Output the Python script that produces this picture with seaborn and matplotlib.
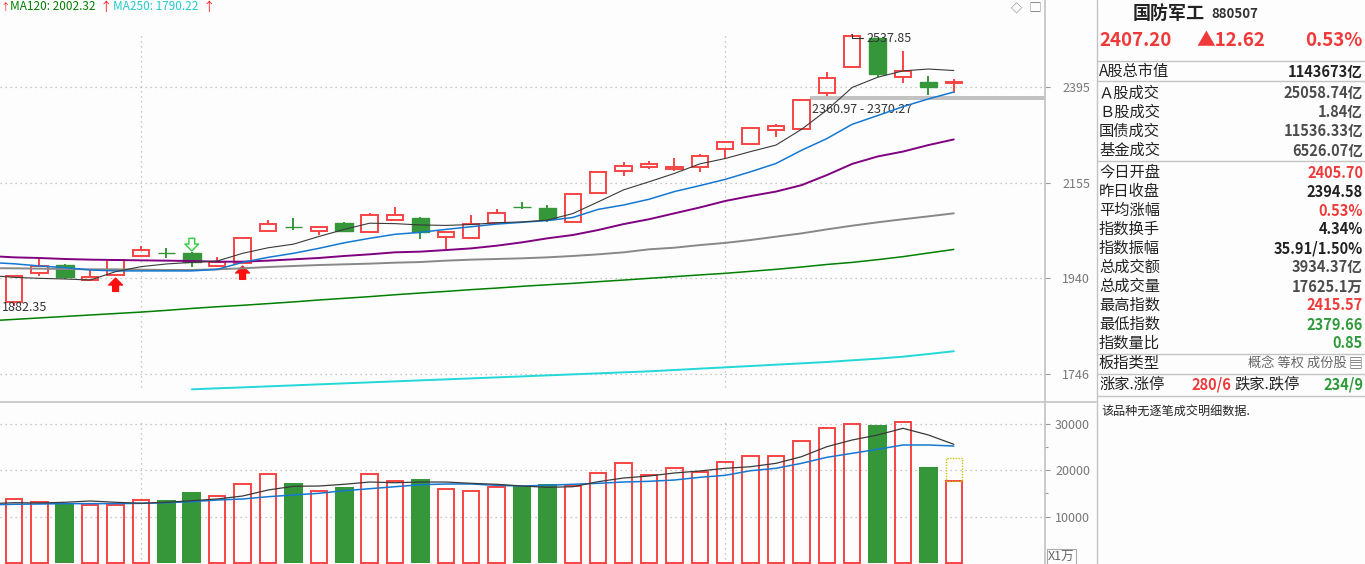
import numpy as np
import matplotlib
matplotlib.use("Agg")
import matplotlib.pyplot as plt
from matplotlib.lines import Line2D
from matplotlib.ticker import NullLocator
import seaborn as sns

# ---- daily candles (index points) ----
opens = [1890, 1951, 1968, 1936, 1947, 1988, 1995, 1995, 1966, 1973, 2044, 2053, 2043, 2062,
         2041, 2069, 2073, 2031, 2028, 2062, 2098, 2095, 2063, 2130, 2184, 2192, 2187, 2192,
         2236, 2248, 2283, 2285, 2378, 2447, 2526, 2421.5, 2407, 2405.70]
highs = [1947, 1984, 1970, 1960, 1980, 2010, 2005.6, 1996, 1986, 2029, 2068, 2072, 2054, 2064,
         2085, 2098, 2074, 2042, 2080, 2093, 2110, 2103, 2129, 2181, 2205, 2206, 2215, 2223,
         2255, 2289, 2298, 2360.97, 2433, 2537.85, 2527, 2491, 2423, 2415.57]
lows = [1882.35, 1945, 1938, 1935, 1946, 1987, 1983.6, 1964, 1965, 1972, 2043, 2046, 2034.5, 2043,
        2040, 2068, 2026, 2001, 2027, 2061, 2093, 2064.5, 2062, 2129, 2171, 2187, 2183, 2181,
        2215, 2247, 2267, 2284, 2370.27, 2446, 2420, 2405.6, 2373, 2379.66]
closes = [1945, 1966, 1943, 1943, 1979, 2001, 1994, 1975, 1975, 2028, 2059, 2052, 2053, 2044,
          2080, 2079, 2042, 2041, 2059, 2085, 2097, 2070, 2128, 2180, 2195, 2200, 2192, 2219,
          2254, 2288, 2294, 2360, 2417, 2532, 2428, 2436, 2394.58, 2407.20]

# volume, x1万
volume = [13740, 13100, 12880, 12450, 12450, 13530, 13590, 15310, 14390, 16970, 19120, 17250, 15460,
          16390, 19120, 17610, 18110, 15890, 15460, 16320, 16670, 17030, 16540, 19330, 21480, 18900,
          20410, 19550, 21700, 22990, 22990, 26220, 29010, 29870, 29720, 30300, 20690, 17625.1]
vol_projected = 22560

# moving averages; the first value belongs to the session just left of the chart
ma5 = [1946, 1941.8, 1939.7, 1938.3, 1936.1, 1954, 1964.8, 1970.6, 1974, 1977, 1993.8, 2006, 2014,
       2031, 2047, 2061, 2060, 2057, 2056, 2058, 2062, 2064, 2068, 2083, 2110, 2138, 2157, 2177,
       2200, 2213, 2230, 2246, 2285, 2334, 2393, 2420, 2437, 2442, 2438]
ma10 = [1974, 1971, 1966.3, 1962.7, 1957.6, 1955.6, 1955.6, 1955.6, 1955.6, 1958.9, 1974, 1985,
        1993.8, 2004.7, 2017, 2027, 2036, 2040.4, 2047, 2053, 2059, 2063, 2067, 2074, 2092.6, 2102.7,
        2116, 2134, 2148, 2162.8, 2181, 2201, 2233, 2262, 2298, 2320, 2343, 2363, 2381]
ma20 = [1988, 1985, 1983.6, 1981.4, 1980, 1979.2, 1978.5, 1977.8, 1977, 1975.6, 1975.6, 1977.8,
        1980.7, 1983.6, 1988, 1991.6, 1996, 1997.5, 2001, 2004.7, 2010.6, 2018, 2027, 2034.4, 2045.6,
        2059, 2070, 2083.5, 2097, 2112, 2123.5, 2134, 2149, 2173, 2200, 2218, 2230, 2246, 2260]
ma60 = [1961.5, 1961.2, 1960.5, 1959.8, 1959.0, 1959.0, 1958.3, 1957.6, 1957.6, 1959.0, 1961.2,
        1964.0, 1966.2, 1968.3, 1969.8, 1971.3, 1973.4, 1974.8, 1977.8, 1980.0, 1981.4, 1982.9,
        1985.0, 1988.0, 1991.6, 1996.0, 2002.6, 2006.2, 2012.0, 2016.8, 2023.2, 2030.7, 2038.0,
        2047.0, 2055.4, 2063.0, 2070.0, 2076.6, 2083.5]
ma120 = [1851, 1854, 1857, 1860, 1863, 1866, 1869, 1872.5, 1876.5, 1880, 1883, 1886.5, 1890, 1894,
         1897.5, 1901, 1905, 1908.6, 1912, 1915.7, 1919, 1922.7, 1926, 1929, 1932.6, 1936, 1939.7,
         1943.3, 1947, 1950.4, 1954.7, 1959, 1964, 1969.5, 1974, 1980, 1986.5, 1994.5, 2002.32]
ma250_start = 7
ma250 = [1716.7, 1718.6, 1720.4, 1722.3, 1724.2, 1726.1, 1728, 1729.9, 1731.8, 1733.7, 1735.6,
         1737.5, 1739.4, 1741.3, 1743.3, 1745.2, 1747.1, 1749.1, 1751, 1753.6, 1756.2, 1758.7,
         1761.3, 1763.9, 1766.5, 1769.1, 1772.4, 1775.6, 1779.5, 1784.7, 1790.22]
vol_ma5 = [12800, 13010, 12950, 13100, 13380, 13100, 12880, 13100, 13440, 13810, 14450, 15740,
           16540, 16600, 16970, 17460, 17310, 17460, 17460, 17180, 16970, 16600, 16320, 16450,
           17530, 18320, 18750, 19400, 19830, 20410, 20750, 21480, 22900, 25050, 26500, 27570,
           29010, 27570, 25570]
vol_ma10 = [12550, 12670, 12730, 12810, 12810, 12810, 12880, 13010, 13230, 13590, 13810, 14300,
            14670, 15030, 15590, 16020, 16450, 16880, 17030, 17030, 16750, 16600, 16750, 16970,
            17180, 17460, 17610, 17890, 18470, 18900, 19890, 20410, 21480, 22770, 23630, 24500,
            25420, 25420, 25200]

price_ticks = [1746, 1940, 2155, 2395]
vol_ticks = [10000, 20000, 30000]
month_starts = [5, 28]
buy_signals = [4, 9]
sell_signals = [7]
gap_low, gap_high = 2360.97, 2370.27

title = '国防军工'
code = '880507'
last_price, last_change, last_pct = '2407.20', '▲12.62', '0.53%'
stat_labels = ['A股总市值', 'Ａ股成交', 'Ｂ股成交', '国债成交', '基金成交', '今日开盘', '昨日收盘',
               '平均涨幅', '指数换手', '指数振幅', '总成交额', '总成交量', '最高指数', '最低指数', '指数量比']
stat_values = ['1143673亿', '25058.74亿', '1.84亿', '11536.33亿', '6526.07亿', '2405.70', '2394.58',
               '0.53%', '4.34%', '35.91/1.50%', '3934.37亿', '17625.1万', '2415.57', '2379.66', '0.85']
stat_tone = ['dark', 'mid', 'mid', 'mid', 'mid', 'up', 'dark', 'up', 'dark', 'dark', 'mid', 'mid',
             'up', 'down', 'down']

sns.set_theme(style="white")
plt.rcParams['font.family'] = ['Noto Sans CJK SC', 'DejaVu Sans']
plt.rcParams['axes.unicode_minus'] = False

W, H = 1365, 564
BG = '#fdfdfd'
RED = '#f84444'
GREEN = '#36963a'
TXT_RED = '#f03a3a'
TXT_GREEN = '#2f9a3a'
GRID = '#b4b4b4'
EDGE = '#c4c4c4'
tone_color = {'dark': '#222222', 'mid': '#4c4c4c', 'up': TXT_RED, 'down': TXT_GREEN}

fig = plt.figure(figsize=(W / 100, H / 100), dpi=100, facecolor=BG)


def label(x, y, s, **kw):
    kw.setdefault('va', 'center')
    fig.text(x / W, 1 - y / H, s, **kw)


def hline(y, x0, x1, **kw):
    fig.add_artist(Line2D([x0 / W, x1 / W], [1 - y / H, 1 - y / H], transform=fig.transFigure, **kw))


step = 25.4
xlim = (-14 / step, (1045 - 14) / step)
o, h, l, c = map(np.array, (opens, highs, lows, closes))
idx = np.arange(len(c))
up = c >= o
body_lo, body_hi = np.minimum(o, c), np.maximum(o, c)
cols = np.where(up, RED, GREEN)

# ---------------- price panel ----------------
ax = fig.add_axes([0, 1 - 401 / H, 1045 / W, 401 / H])
ax.set_facecolor('none')
ax.set_yscale('log')
ax.set_xlim(*xlim)
ax.set_ylim(1694.8, 2634.7)

ax.vlines(idx, body_hi, h, color=cols, lw=1.4, zorder=2)
ax.vlines(idx, l, body_lo, color=cols, lw=1.4, zorder=2)
ax.bar(idx[up], (body_hi - body_lo)[up], bottom=body_lo[up], width=0.64,
       facecolor='none', edgecolor=RED, linewidth=1.4, zorder=3)
ax.bar(idx[~up], (body_hi - body_lo)[~up], bottom=body_lo[~up], width=0.70,
       color=GREEN, edgecolor=GREEN, linewidth=1.0, zorder=3)

ma_x = np.arange(-1, len(c))
for vals, colr, lw in [(ma120, '#008000', 1.1), (ma60, '#888888', 1.4), (ma20, '#800080', 1.4),
                       (ma10, '#1478d2', 1.1), (ma5, '#3a3a3a', 0.8)]:
    sns.lineplot(x=ma_x, y=vals, ax=ax, color=colr, linewidth=lw, zorder=4)
sns.lineplot(x=np.arange(ma250_start, ma250_start + len(ma250)), y=ma250, ax=ax,
             color='#22d8d8', linewidth=1.4, zorder=4)

ax.fill_between([31.34, xlim[1]], gap_low, gap_high, color='#c2c2c2', lw=0, zorder=1)
ax.annotate(f'{gap_low:.2f} - {gap_high:.2f}', xy=(31.42, gap_low), xytext=(0, -10),
            textcoords='offset pixels', ha='left', va='center', fontsize=9, color='#333333')
top_i = int(np.argmax(h))
ax.annotate(f'{h[top_i]:.2f}', xy=(top_i, h[top_i]), xytext=(14, -4), textcoords='offset pixels',
            ha='left', va='center', fontsize=9, color='#333333',
            arrowprops=dict(arrowstyle='-', color='#333333', lw=0.8, shrinkA=0, shrinkB=0,
                            connectionstyle='angle,angleA=0,angleB=90,rad=0'))
low_i = int(np.argmin(l))
ax.annotate(f'{l[low_i]:.2f}', xy=(xlim[0], l[low_i]), xytext=(2, -2), textcoords='offset pixels',
            ha='left', va='center', fontsize=9, color='#333333')

for i in buy_signals:
    ax.annotate('', xy=(i, l[i]), xytext=(0, -16), textcoords='offset pixels',
                arrowprops=dict(arrowstyle='simple,head_length=0.45,head_width=0.9,tail_width=0.38',
                                fc='#ff1010', ec='#ff1010', shrinkA=0, shrinkB=2, mutation_scale=11))
for i in sell_signals:
    ax.annotate('', xy=(i, h[i]), xytext=(0, 14), textcoords='offset pixels',
                arrowprops=dict(arrowstyle='simple,head_length=0.45,head_width=0.9,tail_width=0.38',
                                fc='white', ec='#2ecc40', lw=1.0, shrinkA=0, shrinkB=1, mutation_scale=11))

ax.set_yticks(price_ticks)
ax.set_yticklabels([str(t) for t in price_ticks])
ax.yaxis.set_minor_locator(NullLocator())
ax.yaxis.tick_right()
ax.tick_params(axis='y', length=3.6, width=0.8, color='#999999', labelcolor='#777777',
               labelsize=9, pad=28.8)
for t in ax.get_yticklabels():
    t.set_ha('right')
ax.set_xticks([])
ax.grid(axis='y', linestyle=(0, (1, 3)), color=GRID, lw=0.9)
for m in month_starts:
    ax.axvline(m, ymin=0.035, ymax=0.918, linestyle=(0, (1, 3)), color=GRID, lw=0.9, zorder=0)
for s in ['top', 'left', 'bottom']:
    ax.spines[s].set_visible(False)
ax.spines['right'].set_color(EDGE)
ax.set_xlabel('')
ax.set_ylabel('')

# ---------------- volume panel ----------------
v = np.array(volume)
axv = fig.add_axes([0, 0, 1045 / W, 162 / H])
axv.set_facecolor('none')
axv.set_xlim(*xlim)
axv.set_ylim(-172, 34667)
axv.bar(idx[up], v[up], width=0.64, facecolor='none', edgecolor=RED, linewidth=1.4, zorder=3)
axv.bar(idx[~up], v[~up], width=0.74, color=GREEN, linewidth=0, zorder=3)
axv.bar(idx[-1], vol_projected - v[-1], bottom=v[-1], width=0.64, fill=False,
        edgecolor='#c8c800', linestyle=(0, (1, 1)), linewidth=1.0, zorder=3)
sns.lineplot(x=ma_x, y=vol_ma10, ax=axv, color='#1478d2', linewidth=1.1, zorder=4)
sns.lineplot(x=ma_x, y=vol_ma5, ax=axv, color='#3a3a3a', linewidth=0.9, zorder=4)

axv.set_yticks(vol_ticks)
axv.set_yticklabels([str(t) for t in vol_ticks])
axv.set_yticks([15000, 25000], minor=True)
axv.yaxis.tick_right()
axv.tick_params(axis='y', which='major', length=3.6, width=0.8, color='#999999',
                labelcolor='#777777', labelsize=9, pad=28.8)
axv.tick_params(axis='y', which='minor', length=2.5, width=0.8, color='#999999')
for t in axv.get_yticklabels():
    t.set_ha('right')
axv.set_xticks([])
axv.grid(axis='y', which='major', linestyle=(0, (1, 3)), color=GRID, lw=0.9)
for m in month_starts:
    axv.axvline(m, ymin=0, ymax=0.88, linestyle=(0, (1, 3)), color=GRID, lw=0.9, zorder=0)
for s in ['top', 'left', 'bottom']:
    axv.spines[s].set_visible(False)
axv.spines['right'].set_color(EDGE)
axv.set_xlabel('')
axv.set_ylabel('')
label(1048, 557, 'X1万', fontsize=9, color='#666666',
      bbox=dict(boxstyle='square,pad=0.12', fc='none', ec='#aaaaaa', lw=0.8))

# frame lines
hline(402, 0, 1096, color=EDGE, lw=1.2)
fig.add_artist(Line2D([1096.5 / W] * 2, [0, 1], transform=fig.transFigure, color=EDGE, lw=1.0))

# MA legend on top
label(0, 7, '↑', color='#ff2020', fontsize=7)
label(10, 7, f'MA120: {ma120[-1]:.2f}', color='#008000', fontsize=8.5)
label(100, 7, '↑', color='#ff2020', fontsize=9)
label(113, 7, f'MA250: {ma250[-1]:.2f}', color='#22cccc', fontsize=8.5)
label(203, 7, '↑', color='#ff2020', fontsize=9)
label(1016, 8, '◇', color='#666666', fontsize=8, ha='center')
label(1035, 8, '▢', color='#666666', fontsize=8, ha='center')

# ---------------- quote panel ----------------
label(1133, 13, title, fontsize=13, fontweight='bold', color='#222222')
label(1211, 14, code, fontsize=9.5, fontweight='bold', color='#333333')
label(1099, 41, last_price, fontsize=13.5, fontweight='bold', color=TXT_RED)
label(1231, 41, last_change, fontsize=13.5, fontweight='bold', color=TXT_RED, ha='center')
label(1363, 41, last_pct, fontsize=13.5, fontweight='bold', color=TXT_RED, ha='right')

row_y = [71.5] + [93 + 19.2 * k for k in range(4)] + [172.5 + 19.0 * k for k in range(10)]
for y, name, val, tone in zip(row_y, stat_labels, stat_values, stat_tone):
    label(1099, y, name, fontsize=11, color='#222222')
    label(1363, y, val, fontsize=10.5, fontweight='bold', color=tone_color[tone], ha='right')

label(1099, 363, '板指类型', fontsize=11, color='#222222')
label(1347, 363, '概念 等权 成份股', fontsize=9.5, color='#666666', ha='right')
label(1362, 363, '▤', fontsize=10, color='#666666', ha='right')
label(1099, 384, '涨家.涨停', fontsize=11, color='#222222')
label(1231, 384, '280/6', fontsize=10.5, fontweight='bold', color=TXT_RED, ha='right')
label(1234, 384, '跌家.跌停', fontsize=11, color='#222222')
label(1363, 384, '234/9', fontsize=10.5, fontweight='bold', color=TXT_GREEN, ha='right')
label(1101, 411, '该品种无逐笔成交明细数据.', fontsize=8.7, color='#222222')

for y in [60.5, 81.5, 161.5, 353.5, 373.5, 396]:
    hline(y, 1097, W, color=EDGE, lw=1.0)

fig.savefig('out.png', dpi=100, facecolor=BG)
